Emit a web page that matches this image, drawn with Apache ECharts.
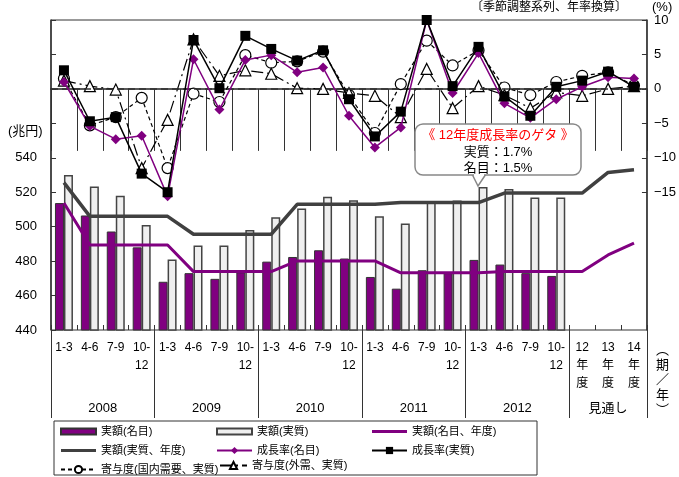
<!DOCTYPE html>
<html>
<head>
<meta charset="utf-8">
<script src="https://cdn.jsdelivr.net/npm/echarts@6/dist/echarts.min.js"></script>
<style>
  html, body { margin: 0; padding: 0; background: #fff; }
  #chart { width: 679px; height: 477px; }
</style>
</head>
<body>
<div id="chart"></div>
<script>
// Quarter / fiscal-year slots along the horizontal axis
const quarterLabels = ['1-3', '4-6', '7-9', '10-\n12'];
const yearCount = 5;
const fiscalLabels = ['12\n年\n度', '13\n年\n度', '14\n年\n度'];
const yearGroups = ['2008', '2009', '2010', '2011', '2012', '見通し'];
const yearGroupCentres = [2, 6, 10, 14, 18, 21.5];
const yearGroupEdges = [0, 4, 8, 12, 16, 20, 23];
const rateTicks = [-15, -10, -5, 0, 5, 10];

// GDP levels (兆円), seasonally adjusted annual rate
const nominalQ = [513.7, 506.5, 497.2, 488.0, 468.0, 473.0, 469.7, 473.5, 479.7, 482.4, 486.3, 481.5,
                  470.8, 464.0, 474.7, 473.0, 480.7, 478.0, 473.0, 471.4, null, null, null];
const realQ = [530.0, 523.3, 518.0, 501.0, 481.0, 489.0, 489.0, 498.0, 505.5, 510.5, 517.3, 515.4,
               506.1, 501.8, 514.6, 515.2, 523.0, 521.8, 516.9, 517.0, null, null, null];
const nominalFY = [513.7, 489.4, 489.4, 489.4, 489.4, 473.9, 473.9, 473.9, 473.9, 480.1, 480.1, 480.1,
                   480.1, 473.2, 473.2, 473.2, 473.2, 474.0, 474.0, 474.0, 474.0, 483.6, 490.4];
const realFY = [525.6, 506.0, 506.0, 506.0, 506.0, 495.6, 495.6, 495.6, 495.6, 513.0, 513.0, 513.0,
                513.0, 514.0, 514.0, 514.0, 514.0, 519.5, 519.5, 519.5, 519.5, 531.5, 533.0];

// Growth rates and contributions (%)
const nominalGrowth = [1.0, -5.4, -7.3, -6.8, -15.6, 4.3, -3.0, 4.2, 4.9, 2.4, 3.1, -3.9,
                       -8.5, -5.6, 10.0, -0.6, 5.2, -2.1, -4.2, -1.5, 0.3, 1.7, 1.5];
const realGrowth = [2.7, -4.7, -4.1, -12.3, -15.0, 7.1, 0.1, 7.7, 5.8, 4.1, 5.6, -1.5,
                    -6.9, -3.3, 10.0, 0.4, 6.1, -1.1, -3.9, 0.3, 1.2, 2.5, 0.3];
const domesticContrib = [1.5, -5.3, -4.1, -1.3, -11.5, -0.7, -1.9, 4.9, 3.8, 4.0, 5.4, -0.9,
                         -6.4, 0.7, 7.0, 3.4, 5.6, 0.2, -0.9, 1.0, 1.9, 2.4, 0.5];
const externalContrib = [1.2, 0.4, -0.1, -11.5, -4.5, 7.2, 1.9, 2.7, 2.2, 0.1, 0.0, -0.6,
                         -1.0, -4.1, 2.9, -2.8, 0.4, -0.9, -2.8, -0.5, -1.0, 0.0, 0.4];

const categories = [];
for (let y = 0; y < yearCount; y++) categories.push(...quarterLabels);
categories.push(...fiscalLabels);

const FONT = "'Liberation Sans', 'Noto Sans CJK JP', sans-serif";
const PURPLE = '#800080';
const DARK = '#404040';

const chart = echarts.init(document.getElementById('chart'), null, { renderer: 'canvas' });

const legendBase = {
  orient: 'vertical', itemGap: 8, itemWidth: 35, itemHeight: 9, top: 426,
  textStyle: { fontSize: 11, color: '#000', fontFamily: FONT },
  selectedMode: false, padding: 0
};
const barIcon = 'path://M0,0h35v6h-35z';
const thickLineIcon = 'path://M0,0h35v3h-35z';

chart.setOption({
  animation: false,
  textStyle: { fontFamily: FONT, color: '#000' },
  grid: { left: 51, right: 31, top: 20, bottom: 147, show: true, borderColor: '#333', borderWidth: 1 },
  legend: [
    Object.assign({}, legendBase, { left: 60, data: [
      { name: '実額(名目)', icon: barIcon },
      { name: '実額(実質、年度)', icon: thickLineIcon },
      '寄与度(国内需要、実質)'] }),
    Object.assign({}, legendBase, { left: 216, data: [
      { name: '実額(実質)', icon: barIcon },
      '成長率(名目)'] }),
    Object.assign({}, legendBase, { left: 219, top: 460, itemWidth: 27, data: ['寄与度(外需、実質)'] }),
    Object.assign({}, legendBase, { left: 371, data: [
      { name: '実額(名目、年度)', icon: thickLineIcon },
      '成長率(実質)'] })
  ],
  xAxis: [
    {
      type: 'category', data: categories, position: 'bottom',
      axisLine: { show: true, lineStyle: { color: '#222', width: 1.5 } },
      axisTick: { show: true, interval: 0, length: 62, lineStyle: { color: '#333', width: 1 } },
      axisLabel: { interval: 0, fontSize: 12, color: '#000', lineHeight: 18, margin: 9 }
    },
    {
      type: 'category', data: categories, position: 'bottom',
      axisLine: { show: false },
      axisTick: { show: true, inside: true, interval: 0, length: 5, lineStyle: { color: '#333' } },
      axisLabel: { show: false }
    },
    {
      type: 'value', min: 0, max: 23, position: 'bottom',
      axisLine: { show: false }, splitLine: { show: false },
      axisTick: { show: true, customValues: yearGroupEdges, length: 88, lineStyle: { color: '#333', width: 1 } },
      axisLabel: {
        customValues: yearGroupCentres, margin: 72, fontSize: 13, color: '#000',
        formatter: v => yearGroups[yearGroupCentres.indexOf(v)] || ''
      }
    }
  ],
  yAxis: [
    {
      type: 'value', min: 440, max: 620, interval: 20, position: 'left',
      axisLine: { show: true, lineStyle: { color: '#333', width: 1.5 } },
      axisTick: { show: true, inside: true, length: 5, lineStyle: { color: '#333' } },
      splitLine: { show: false },
      axisLabel: { fontSize: 13, color: '#000', margin: 14, formatter: v => (v <= 540 ? String(v) : '') }
    },
    {
      type: 'value', min: -35, max: 10, interval: 5, position: 'right',
      axisLine: { show: true, lineStyle: { color: '#333', width: 1.5 } },
      axisTick: { show: true, inside: true, length: 5, customValues: rateTicks, lineStyle: { color: '#333' } },
      splitLine: { show: false },
      axisLabel: {
        fontSize: 13, color: '#000', margin: 7, customValues: rateTicks,
        formatter: v => (v < 0 ? '\u2212' + Math.abs(v) : String(v))
      }
    }
  ],
  series: [
    {
      name: '実額(名目)', type: 'bar', yAxisIndex: 0, data: nominalQ, barWidth: 9, barGap: '0%', z: 2,
      itemStyle: { color: PURPLE, borderColor: '#333', borderWidth: 1 }
    },
    {
      name: '実額(実質)', type: 'bar', yAxisIndex: 0, data: realQ, barWidth: 9, z: 2,
      itemStyle: { color: '#efefef', borderColor: '#444', borderWidth: 1.5 }
    },
    {
      name: '実額(名目、年度)', type: 'line', yAxisIndex: 0, data: nominalFY, z: 3,
      symbol: 'none', lineStyle: { color: PURPLE, width: 3 }, itemStyle: { color: PURPLE }
    },
    {
      name: '実額(実質、年度)', type: 'line', yAxisIndex: 0, data: realFY, z: 3,
      symbol: 'none', lineStyle: { color: DARK, width: 3.5 }, itemStyle: { color: DARK }
    },
    {
      name: '寄与度(国内需要、実質)', type: 'line', yAxisIndex: 1, data: domesticContrib, z: 4,
      symbol: 'circle', symbolSize: 11,
      lineStyle: { color: '#000', width: 1.2, type: [4, 3] },
      itemStyle: { color: '#fff', borderColor: '#000', borderWidth: 1.2 },
      markLine: {
        silent: true, symbol: 'none', label: { show: false },
        lineStyle: { color: '#333', width: 1.5, type: [7, 4] },
        data: [{ yAxis: 0 }]
      }
    },
    {
      name: '寄与度(外需、実質)', type: 'line', yAxisIndex: 1, data: externalContrib, z: 4,
      symbol: 'triangle', symbolSize: 11,
      lineStyle: { color: '#000', width: 1.2, type: [12, 4, 2, 4] },
      itemStyle: { color: '#fff', borderColor: '#000', borderWidth: 1.2 }
    },
    {
      name: '成長率(名目)', type: 'line', yAxisIndex: 1, data: nominalGrowth, z: 5,
      symbol: 'diamond', symbolSize: 10,
      lineStyle: { color: PURPLE, width: 1.5 }, itemStyle: { color: PURPLE }
    },
    {
      name: '成長率(実質)', type: 'line', yAxisIndex: 1, data: realGrowth, z: 6,
      symbol: 'rect', symbolSize: 10,
      lineStyle: { color: '#000', width: 1.5 }, itemStyle: { color: '#000' }
    }
  ],
  graphic: [
    { type: 'text', left: 8, top: 125, style: { text: '(兆円)', font: '13px ' + FONT, fill: '#000' } },
    { type: 'text', right: 52, top: 2, style: { text: '〔季節調整系列、年率換算〕', font: '12px ' + FONT, fill: '#000' } },
    { type: 'text', left: 652, top: 1, style: { text: '(%)', font: '13px ' + FONT, fill: '#000' } },
    {
      type: 'text', left: 656, top: 343,
      style: { text: '︵\n期\n／\n年\n︶', font: '13px ' + FONT, fill: '#000', lineHeight: 15, align: 'left' }
    },
    // legend frame
    { type: 'rect', shape: { x: 54, y: 421, width: 483, height: 54 }, style: { fill: 'none', stroke: '#333', lineWidth: 1 }, z: 0 },
    // callout: carry-over effect for FY2012
    { type: 'polyline', z: 100, shape: { points: [[472, 174], [478, 186], [486, 174]] }, style: { fill: '#fff', stroke: '#888', lineWidth: 1.5 } },
    { type: 'rect', z: 101, shape: { x: 415, y: 124, width: 166, height: 51, r: 8 }, style: { fill: '#fff', stroke: '#888', lineWidth: 1.5 } },
    { type: 'rect', z: 102, shape: { x: 474, y: 172, width: 10, height: 4 }, style: { fill: '#fff' } },
    { type: 'text', z: 103, x: 498, y: 135, style: { text: '《 12年度成長率のゲタ 》', font: '13px ' + FONT, fill: '#ff0000', align: 'center', verticalAlign: 'middle' } },
    { type: 'text', z: 103, x: 498, y: 152, style: { text: '実質：1.7%', font: '13px ' + FONT, fill: '#000', align: 'center', verticalAlign: 'middle' } },
    { type: 'text', z: 103, x: 498, y: 168, style: { text: '名目：1.5%', font: '13px ' + FONT, fill: '#000', align: 'center', verticalAlign: 'middle' } }
  ]
});
</script>
</body>
</html>
